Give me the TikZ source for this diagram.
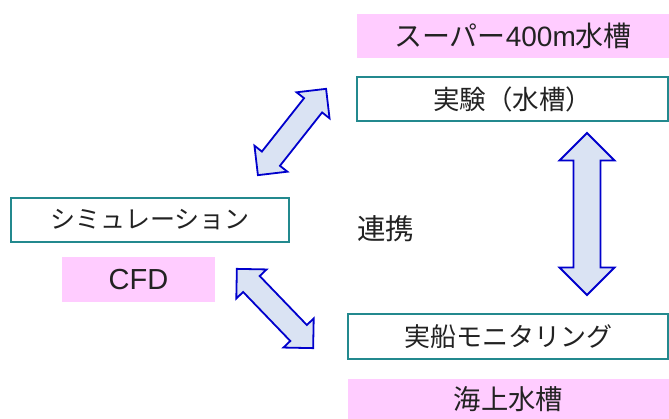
\documentclass[tikz,border=0pt]{standalone}
\usepackage{fontspec}
\setmainfont{Noto Sans CJK JP}
\newfontfamily\lat{Liberation Sans}
\definecolor{txt}{HTML}{222222}
\definecolor{teal2}{HTML}{23898E}
\definecolor{pinkfill}{HTML}{FFCCFF}
\definecolor{arrowfill}{HTML}{DAE3F3}
\definecolor{arrowline}{HTML}{0000CC}
\tikzset{
  fs/.style={font=\fontsize{#1}{#1}\selectfont},
  labeltext/.style={text=txt, fs=25, inner sep=0pt},
  outlinebox/.style={labeltext, draw=teal2, line width=2pt, fill=white},
  pinkbox/.style={labeltext, fill=pinkfill},
  blockarrow/.style={draw=arrowline, fill=arrowfill, line width=1.8pt, line join=miter},
}
\newcommand\dblblock[6]{% x, y, angle, length, shaft half, head half
  \begin{scope}[shift={(#1,#2)}, rotate=#3]
    \pgfmathsetmacro\hl{#4/2}
    \pgfmathsetmacro\hb{#4/2-#6}
    \draw[blockarrow] (-\hl,0) -- (-\hb,#6) -- (-\hb,#5) -- (\hb,#5) -- (\hb,#6) -- (\hl,0)
      -- (\hb,-#6) -- (\hb,-#5) -- (-\hb,-#5) -- (-\hb,-#6) -- cycle;
  \end{scope}}
\begin{document}
\begin{tikzpicture}[x=1pt,y=-1pt]
\useasboundingbox[fill=white] (0,0) rectangle (669,419);
\node[pinkbox, fs=28, minimum width=312, minimum height=44] (super) at (513,36) {スーパー{\lat 400m}水槽};
\node[outlinebox, fs=26.5, minimum width=311, minimum height=44] (exp) at (512.5,99) {実験（水槽）};
\node[outlinebox, minimum width=278, minimum height=44] (sim) at (150,220) {シミュレーション};
\node[pinkbox, fs=29, minimum width=153, minimum height=45] (cfd) at (138.5,279.5) {{\lat CFD}};
\node[outlinebox, fs=26, minimum width=320, minimum height=45] (ship) at (508,336.5) {実船モニタリング};
\node[pinkbox, fs=27.3, minimum width=321, minimum height=40] (sea) at (508.5,399) {海上水槽};
\node[labeltext, fs=28.5] (renkei) at (385.5,228.5) {連携};
\dblblock{292}{132}{51.7}{110}{11.5}{21}
\dblblock{275}{308.5}{-46.1}{110}{11.5}{21}
\dblblock{587}{214}{90}{162}{13.5}{27.5}
\end{tikzpicture}
\end{document}
